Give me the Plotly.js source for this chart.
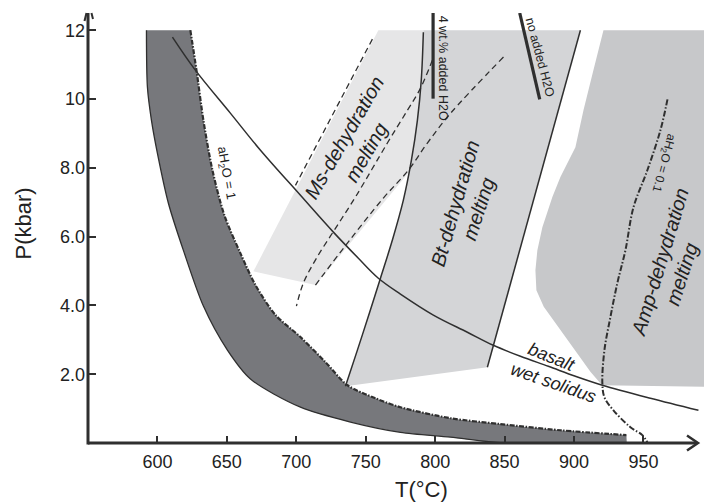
<!DOCTYPE html>
<html>
<head>
<meta charset="utf-8">
<script src="https://cdn.plot.ly/plotly-3.0.1.min.js"></script>
<style>html,body{margin:0;padding:0;background:#fff;}#chart{width:704px;height:504px;}</style>
</head>
<body>
<div id="chart"></div>
<script>
// ---- Data (T in °C, P in kbar) ----
const xTickVals = [600, 650, 700, 750, 800, 850, 900, 950];
const yTickVals = [2, 4, 6, 8, 10, 12];
const yTickText = ["2.0", "4.0", "6.0", "8.0", "10", "12"];

// Muscovite dehydration-melting field
const msRegionT = [759.1, 791.5, 790.0, 787.2, 782.9, 781.1, 713.8, 669.1];
const msRegionP = [12.0, 12.0, 10.55, 9.38, 8.22, 7.87, 4.59, 4.99];

// Biotite dehydration-melting field
const btRegionT = [791.5, 904.6, 837.6, 735.4, 744.0, 752.6, 760.6, 769.2, 777.1, 782.9, 787.2, 790.0, 791.5];
const btRegionP = [12.0, 12.0, 2.20, 1.65, 2.70, 3.77, 4.79, 5.90, 7.06, 8.22, 9.38, 10.55, 12.0];
const btLeftT = [791.5, 790.0, 787.2, 782.9, 777.1, 769.2, 760.6, 752.6, 744.0, 735.4];
const btLeftP = [11.94, 10.55, 9.38, 8.22, 7.06, 5.90, 4.79, 3.77, 2.70, 1.65];
const btRightT = [904.6, 837.6];
const btRightP = [12.0, 2.20];

// Amphibole dehydration-melting field
const ampRegionT = [921.2, 1000, 1000, 920.2, 911.8, 902.2, 890.2, 878.2, 872.9, 872.2, 873.6, 877.2, 884.4, 890.2, 901.0, 906.8, 914.0];
const ampRegionP = [12.0, 12.0, 1.63, 1.68, 2.07, 2.61, 3.28, 3.96, 4.44, 5.02, 5.60, 6.27, 7.15, 7.73, 8.60, 9.67, 10.84];

// Granite wet solidus band (aH2O = 1 upper boundary, lower boundary)
const bandUpperT = [623.7, 628.1, 633.1, 639.6, 648.2, 659.7, 670.6, 685.0, 703.0, 721.0, 736.8, 757.0, 775.0, 811.0, 847.0, 890.2, 937.7];
const bandUpperP = [12.0, 10.84, 9.38, 7.93, 6.62, 5.52, 4.59, 3.72, 3.08, 2.35, 1.68, 1.30, 1.04, 0.72, 0.55, 0.37, 0.23];
const bandLowerT = [592.1, 592.8, 595.7, 600.0, 607.9, 618.7, 633.1, 650.4, 667.0, 703.0, 739.0, 775.0, 811.0, 849.2, 938.0];
const bandLowerP = [12.0, 10.34, 9.38, 8.42, 6.97, 5.60, 3.98, 2.70, 1.86, 1.04, 0.61, 0.31, 0.17, 0.0, 0.0];

// Basalt wet solidus
const solidusT = [610.8, 627.3, 652.5, 674.2, 703.0, 726.7, 744.7, 759.1, 775.0, 798.7, 823.2, 841.9, 861.4, 881.5, 901.0, 920.4, 955.0, 989.6];
const solidusP = [11.80, 10.84, 9.59, 8.51, 7.20, 6.13, 5.37, 4.79, 4.33, 3.72, 3.22, 2.84, 2.52, 2.23, 1.94, 1.68, 1.30, 0.95];

// Dashed reaction curves within the Ms field
const dashAT = [754.8, 699.4];
const dashAP = [11.74, 7.49];
const dashBT = [798.0, 789.4, 780.0, 765.6, 742.6, 728.2, 714.5, 705.1, 700.1];
const dashBP = [11.13, 10.31, 9.67, 8.72, 7.15, 6.24, 5.37, 4.65, 3.98];
const dashCT = [849.2, 811.0, 794.4, 780.7, 762.7, 736.8, 713.8];
const dashCP = [11.22, 9.58, 8.72, 7.93, 7.12, 5.81, 4.59];

// aH2O = 0.1 curve
const aH01T = [967.3, 962.2, 952.8, 942.8, 937.0, 931.2, 926.2, 921.9, 920.4, 921.9, 928.4, 940.6, 949.2, 952.8];
const aH01P = [9.99, 9.09, 7.93, 6.85, 5.60, 4.65, 3.66, 2.70, 1.74, 1.33, 0.95, 0.46, 0.23, 0.02];

// Added-water markers
const wt4BarT = [798.5, 798.5];
const wt4BarP = [12.55, 10.01];
const noH2OBarT = [860.9, 875.3];
const noH2OBarP = [12.5, 9.99];

// ---- Styles ----
const INK = '#2f2f2f';
const FONT = 'Liberation Sans, Arial, sans-serif';

function poly(x, y, color) {
  return {x: x, y: y, type: 'scatter', mode: 'lines', fill: 'toself', fillcolor: color,
          line: {width: 0, color: color}, hoverinfo: 'skip', showlegend: false};
}
function curve(x, y, width, dash, shape) {
  return {x: x, y: y, type: 'scatter', mode: 'lines',
          line: {width: width, color: INK, dash: dash || 'solid', shape: shape || 'linear', smoothing: 1},
          hoverinfo: 'skip', showlegend: false};
}

const traces = [
  poly(msRegionT, msRegionP, '#e6e6e7'),
  poly(btRegionT, btRegionP, '#d4d5d7'),
  poly(ampRegionT, ampRegionP, '#c7c8ca'),
  {x: bandLowerT, y: bandLowerP, type: 'scatter', mode: 'lines',
   line: {width: 1.3, color: INK, shape: 'spline', smoothing: 0.8}, hoverinfo: 'skip', showlegend: false},
  {x: bandUpperT, y: bandUpperP, type: 'scatter', mode: 'lines', fill: 'tonexty', fillcolor: '#77787c',
   line: {width: 2.2, color: INK, shape: 'spline', smoothing: 0.8, dash: '5px,1.5px,1.5px,1.5px'}, hoverinfo: 'skip', showlegend: false},
  curve(btLeftT, btLeftP, 1.5, 'solid', 'spline'),
  curve(btRightT, btRightP, 1.5),
  curve(dashAT, dashAP, 1.3, '6px,4px'),
  curve(dashBT, dashBP, 1.3, '6px,4px', 'spline'),
  curve(dashCT, dashCP, 1.3, '6px,4px', 'spline'),
  curve(solidusT, solidusP, 1.5, 'solid', 'spline'),
  curve(aH01T, aH01P, 2, '6px,2px,1.5px,2px', 'spline'),
  curve(wt4BarT, wt4BarP, 3.2),
  curve(noH2OBarT, noH2OBarP, 3.2)
];

function lbl(text, x, y, angle, size, extra) {
  return Object.assign({text: text, x: x, y: y, xref: 'x', yref: 'y', showarrow: false,
    textangle: angle, xanchor: 'center', yanchor: 'middle',
    font: {family: FONT, size: size, color: '#222'}}, extra || {});
}

const annotations = [
  lbl('<i>Ms-dehydration</i>', 734.1, 8.88, -60, 20),
  lbl('<i>melting</i>', 750.5, 8.45, -60, 20),
  lbl('<i>Bt-dehydration</i>', 814.0, 6.96, -74, 20),
  lbl('<i>melting</i>', 831.4, 6.79, -72, 20),
  lbl('<i>Amp-dehydration</i>', 962.1, 5.25, -73, 20),
  lbl('<i>melting</i>', 977.8, 4.90, -72, 20),
  lbl('<i>basalt</i>', 883.7, 2.49, 22, 18),
  lbl('<i>wet solidus</i>', 885.4, 1.75, 19, 18),
  lbl('aH<sub>2</sub>O = 1', 649.5, 7.84, 80, 13),
  lbl('aH<sub>2</sub>O = 0.1', 964.5, 8.15, 105, 12),
  lbl('4 wt.% added H2O', 805.9, 10.90, 90, 12.5),
  lbl('no added H2O', 875.2, 11.21, 75, 12.5),
  {text: 'P(kbar)', xref: 'paper', yref: 'paper', x: -65 / 616, y: 0.5105, showarrow: false,
   textangle: -90, xanchor: 'center', yanchor: 'middle', font: {family: FONT, size: 22, color: '#222'}},
  {text: 'T(°C)', xref: 'paper', yref: 'paper', x: 0.5422, y: -0.1093, showarrow: false,
   xanchor: 'center', yanchor: 'middle', font: {family: FONT, size: 22, color: '#222'}}
];

function px(xp) { return (xp - 88) / 616; }
function py(yp) { return (443 - yp) / 430; }
const axisLine = {color: INK, width: 3};
const shapes = [
  {type: 'line', xref: 'paper', yref: 'paper', x0: 0, y0: 0, x1: px(697), y1: 0, line: axisLine},
  {type: 'line', xref: 'paper', yref: 'paper', x0: 0, y0: py(444.5), x1: 0, y1: 1, line: axisLine},
  {type: 'path', xref: 'paper', yref: 'paper',
   path: 'M ' + px(687) + ' ' + py(435.5) + ' L ' + px(698) + ' ' + py(443) + ' L ' + px(687) + ' ' + py(450.5),
   line: {color: INK, width: 2.5}},
  {type: 'line', xref: 'paper', yref: 'paper', x0: px(84.5), y0: py(21), x1: px(86.5), y1: py(13), line: {color: INK, width: 2}},
  {type: 'line', xref: 'paper', yref: 'paper', x0: px(93), y0: py(19), x1: px(91.5), y1: py(13), line: {color: INK, width: 2}}
];

const layout = {
  width: 704, height: 504,
  margin: {l: 88, r: 0, t: 13, b: 61, pad: 0},
  paper_bgcolor: '#ffffff', plot_bgcolor: '#ffffff',
  showlegend: false,
  xaxis: {range: [550, 993.6], showgrid: false, zeroline: false, showline: false,
          tickmode: 'array', tickvals: xTickVals, ticks: 'inside', ticklen: 7, tickwidth: 2, tickcolor: INK,
          tickfont: {family: FONT, size: 18, color: '#222'}, ticklabelstandoff: 6, fixedrange: true},
  yaxis: {range: [0, 12.5], showgrid: false, zeroline: false, showline: false,
          tickmode: 'array', tickvals: yTickVals, ticktext: yTickText, ticks: 'inside', ticklen: 8, tickwidth: 2, tickcolor: INK,
          tickfont: {family: FONT, size: 18, color: '#222'}, ticklabelstandoff: 2, fixedrange: true},
  annotations: annotations,
  shapes: shapes
};

Plotly.newPlot('chart', traces, layout, {staticPlot: true, displayModeBar: false});
</script>
</body>
</html>
